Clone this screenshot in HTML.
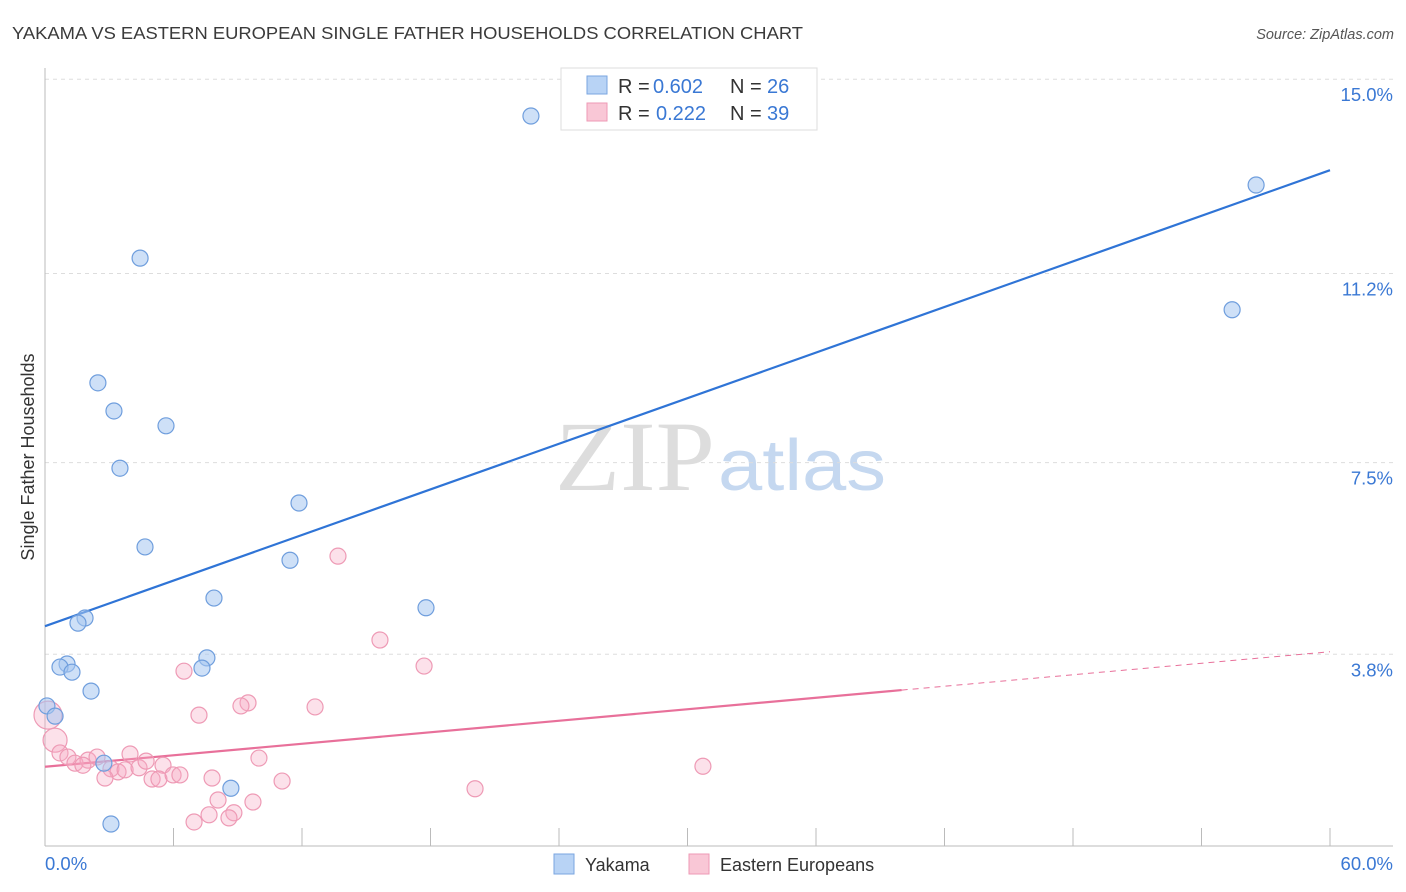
<!DOCTYPE html>
<html><head><meta charset="utf-8">
<style>
body{margin:0;background:#fff;font-family:"Liberation Sans",sans-serif;}
svg{display:block}
</style></head>
<body>
<svg id="chart" width="1406" height="892" xmlns="http://www.w3.org/2000/svg">
<text x="12" y="39" font-size="17.5" fill="#3a3a3a" textLength="791" lengthAdjust="spacingAndGlyphs">YAKAMA VS EASTERN EUROPEAN SINGLE FATHER HOUSEHOLDS CORRELATION CHART</text>
<text x="1394" y="39" font-size="14.5" fill="#555" text-anchor="end" font-style="italic">Source: ZipAtlas.com</text>
<text x="555" y="490" font-size="100" fill="#ddd" font-family="Liberation Serif,serif" textLength="160" lengthAdjust="spacingAndGlyphs">ZIP</text>
<text x="718" y="490" font-size="72" fill="#c5d8f0" textLength="168" lengthAdjust="spacingAndGlyphs">atlas</text>
<text transform="translate(34,457) rotate(-90)" font-size="18" fill="#333" text-anchor="middle">Single Father Households</text>
<g id="grid"></g>
<g id="axes"></g>
<g id="lines"></g>
<g id="points"></g>
<g>
<rect x="561" y="68" width="256" height="62" fill="#fff" stroke="#ddd"/>
<rect x="587" y="76" width="20" height="18" fill="#b8d3f5" stroke="#7aa6e0"/>
<rect x="587" y="103" width="20" height="18" fill="#f9c7d6" stroke="#ee9ab5"/>
<text x="618" y="93" font-size="20" fill="#333">R =</text>
<text x="653" y="93" font-size="20" fill="#3a78d4">0.602</text>
<text x="730" y="93" font-size="20" fill="#333">N =</text>
<text x="767" y="93" font-size="20" fill="#3a78d4">26</text>
<text x="618" y="120" font-size="20" fill="#333">R =</text>
<text x="656" y="120" font-size="20" fill="#3a78d4">0.222</text>
<text x="730" y="120" font-size="20" fill="#333">N =</text>
<text x="767" y="120" font-size="20" fill="#3a78d4">39</text>
</g>
<g>
<rect x="554" y="854" width="20" height="20" fill="#b8d3f5" stroke="#7aa6e0"/>
<text x="585" y="871" font-size="18" fill="#333">Yakama</text>
<rect x="689" y="854" width="20" height="20" fill="#f9c7d6" stroke="#ee9ab5"/>
<text x="720" y="871" font-size="18" fill="#333">Eastern Europeans</text>
</g>
</svg>
<script>
const yakamaX=[22.69,56.55,55.43,4.44,2.47,3.22,5.65,3.50,11.86,4.67,11.44,7.89,17.79,1.87,1.54,7.56,7.33,1.03,0.70,1.26,2.15,0.09,0.47,2.75,8.68,3.08];
const yakamaY=[14.28,12.93,10.49,11.50,9.06,8.51,8.22,7.39,6.71,5.85,5.59,4.85,4.66,4.46,4.36,3.68,3.48,3.56,3.50,3.40,3.03,2.74,2.54,1.62,1.13,0.43];
const easternX=[0.14,0.47,13.68,15.64,17.70,6.49,9.48,9.15,12.61,7.19,0.70,1.07,1.40,2.01,2.43,1.77,3.08,3.41,2.80,3.97,3.74,4.39,4.72,5.51,5.00,5.32,5.98,6.30,7.80,9.99,11.07,30.72,20.08,8.08,9.71,7.66,8.82,6.96,8.59];
const easternY=[2.56,2.07,5.67,4.03,3.52,3.42,2.80,2.74,2.72,2.56,1.82,1.74,1.62,1.68,1.74,1.58,1.51,1.45,1.33,1.80,1.49,1.53,1.66,1.58,1.31,1.31,1.39,1.39,1.33,1.72,1.27,1.56,1.12,0.90,0.86,0.61,0.65,0.47,0.55];
const easternR=[14,12];
const yTicks=[3.8,7.5,11.2,15.0];
const yTickLabels=["3.8%","7.5%","11.2%","15.0%"];
const xTicks=[0,6,12,18,24,30,36,42,48,54,60];
const yakamaTrend=[4.30,13.22];
const easternTrend=[1.55,3.80];
const easternSolidEnd=40;

const NS="http://www.w3.org/2000/svg";
const xs=v=>45+v/60*1285;
const ys=v=>846-v/3.75*191.7;
function mk(tag,attrs,parent){const e=document.createElementNS(NS,tag);for(const k in attrs)e.setAttribute(k,attrs[k]);parent.appendChild(e);return e;}
const grid=document.getElementById('grid'),axes=document.getElementById('axes'),lines=document.getElementById('lines'),pts=document.getElementById('points');
yTicks.forEach((t,i)=>{
  const yy=ys(t===3.8?3.75:t);
  const l=mk('line',{x1:45,x2:1393,y1:yy,y2:yy,stroke:'#ddd','stroke-dasharray':'4,4'},grid);
  
  
  const tx=mk('text',{x:1393,y:yy+22,'font-size':18.5,fill:'#3a78d4','text-anchor':'end'},grid);
  tx.textContent=yTickLabels[i];
  
  
});
const ax=mk('line',{x1:45,x2:45,y1:68,y2:846,stroke:'#bbb'},axes);


const bx=mk('line',{x1:45,x2:1393,y1:846,y2:846,stroke:'#bbb'},axes);


xTicks.forEach(t=>{
  const tk=mk('line',{x1:xs(t),x2:xs(t),y1:828,y2:846,stroke:'#bbb'},axes);
  
  
});
const xl0=mk('text',{x:45,y:870,'font-size':18.5,fill:'#3a78d4'},axes);xl0.textContent='0.0%';


const xl1=mk('text',{x:1393,y:870,'font-size':18.5,fill:'#3a78d4','text-anchor':'end'},axes);xl1.textContent='60.0%';



const ty=(tr,x)=>tr[0]+(tr[1]-tr[0])*x/60;
const bl=mk('line',{x1:xs(0),y1:ys(ty(yakamaTrend,0)),x2:xs(60),y2:ys(ty(yakamaTrend,60)),stroke:'#2f74d6','stroke-width':2.2},lines);


const pl=mk('line',{x1:xs(0),y1:ys(ty(easternTrend,0)),x2:xs(easternSolidEnd),y2:ys(ty(easternTrend,easternSolidEnd)),stroke:'#e8709a','stroke-width':2.2},lines);


const pd=mk('line',{x1:xs(easternSolidEnd),y1:ys(ty(easternTrend,easternSolidEnd)),x2:xs(60),y2:ys(ty(easternTrend,60)),stroke:'#e8709a','stroke-width':1,'stroke-dasharray':'6,5'},lines);



easternX.forEach((x,i)=>{
  const c=mk('circle',{cx:xs(x),cy:ys(easternY[i]),r:easternR[i]||8,fill:'rgba(246,170,196,0.35)',stroke:'#ee9ab5','stroke-width':1.2},pts);
  
  
});
yakamaX.forEach((x,i)=>{
  const c=mk('circle',{cx:xs(x),cy:ys(yakamaY[i]),r:8,fill:'rgba(165,198,240,0.55)',stroke:'#6f9edd','stroke-width':1.2},pts);
  
  
});
</script>
</body></html>
